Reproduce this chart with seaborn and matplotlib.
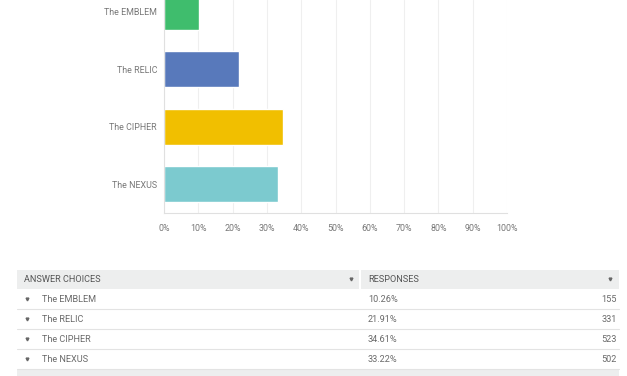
"""Survey results: horizontal bar chart with the answer table below."""
import matplotlib.pyplot as plt
import pandas as pd
import seaborn as sns
from matplotlib.patches import Rectangle
from matplotlib.ticker import FuncFormatter, MultipleLocator

CHOICES = ["The EMBLEM", "The RELIC", "The CIPHER", "The NEXUS"]
PERCENTS = [10.26, 21.91, 34.61, 33.22]
COUNTS = [155, 331, 523, 502]
COLORS = ["#3fbd6d", "#5879bb", "#f1bf00", "#7ccacf"]
HEADERS = ["ANSWER CHOICES", "RESPONSES"]

W, H = 627, 376
TEXT = "#6a6a6a"

sns.set_style("white")
plt.rcParams["font.family"] = ["Roboto", "DejaVu Sans"]

df = pd.DataFrame({"choice": CHOICES, "pct": PERCENTS})

fig = plt.figure(figsize=(W / 100, H / 100), dpi=100)

# bar chart, placed in pixel terms
ax = fig.add_axes([164 / W, 1 - 213 / H, (507 - 164) / W, 213 / H])
sns.barplot(
    data=df, x="pct", y="choice", hue="choice", palette=COLORS,
    orient="h", width=0.63, legend=False, saturation=1, ax=ax,
)
ax.set_xlim(0, 100)
ax.set_ylim(3.5, -0.2)
ax.xaxis.set_major_locator(MultipleLocator(10))
ax.xaxis.set_major_formatter(FuncFormatter(lambda v, _: f"{v:.0f}%"))
ax.grid(axis="x", color="#efefef", linewidth=0.8)
ax.set_axisbelow(True)
ax.set_xlabel("")
ax.set_ylabel("")
for side in ("top", "right"):
    ax.spines[side].set_visible(False)
for side in ("left", "bottom"):
    ax.spines[side].set_color("#e0e0e0")
    ax.spines[side].set_linewidth(0.8)
ax.tick_params(axis="both", length=0, labelsize=6.4, labelcolor="#777777")
ax.tick_params(axis="x", pad=8)
ax.tick_params(axis="y", pad=5)

# table underneath, drawn on an overlay in pixel coordinates
tab = fig.add_axes([0, 0, 1, 1], zorder=-1)
tab.set_xlim(0, W)
tab.set_ylim(H, 0)
tab.axis("off")

header_top, row_h = 270, 20
tab.add_patch(Rectangle((17, header_top), 342, 19, color="#edeeee", lw=0))
tab.add_patch(Rectangle((361, header_top), 258, 19, color="#edeeee", lw=0))
tab.text(24, header_top + 10, HEADERS[0], fontsize=6.6, color="#555555", va="center")
tab.text(368, header_top + 10, HEADERS[1], fontsize=6.6, color="#555555", va="center")
tab.plot([351, 610], [header_top + 9, header_top + 9], "v", color="#666666",
         markersize=2, linestyle="none")

for i, (name, pct, cnt) in enumerate(zip(CHOICES, PERCENTS, COUNTS)):
    top = header_top + 19 + i * row_h
    yc = top + row_h / 2
    tab.plot([27], [yc], "v", color="#666666", markersize=2)
    tab.text(42, yc, name, fontsize=6.6, color=TEXT, va="center")
    tab.text(368, yc, f"{pct:.2f}%", fontsize=6.6, color=TEXT, va="center")
    tab.text(617, yc, f"{cnt}", fontsize=6.6, color=TEXT, va="center", ha="right")
    tab.plot([17, 619], [top + row_h, top + row_h], color="#e3e3e3", linewidth=0.8)

tab.add_patch(Rectangle((17, header_top + 19 + 4 * row_h + 1), 602, 20, color="#edeeee", lw=0))

fig.savefig("out.png", dpi=100)
